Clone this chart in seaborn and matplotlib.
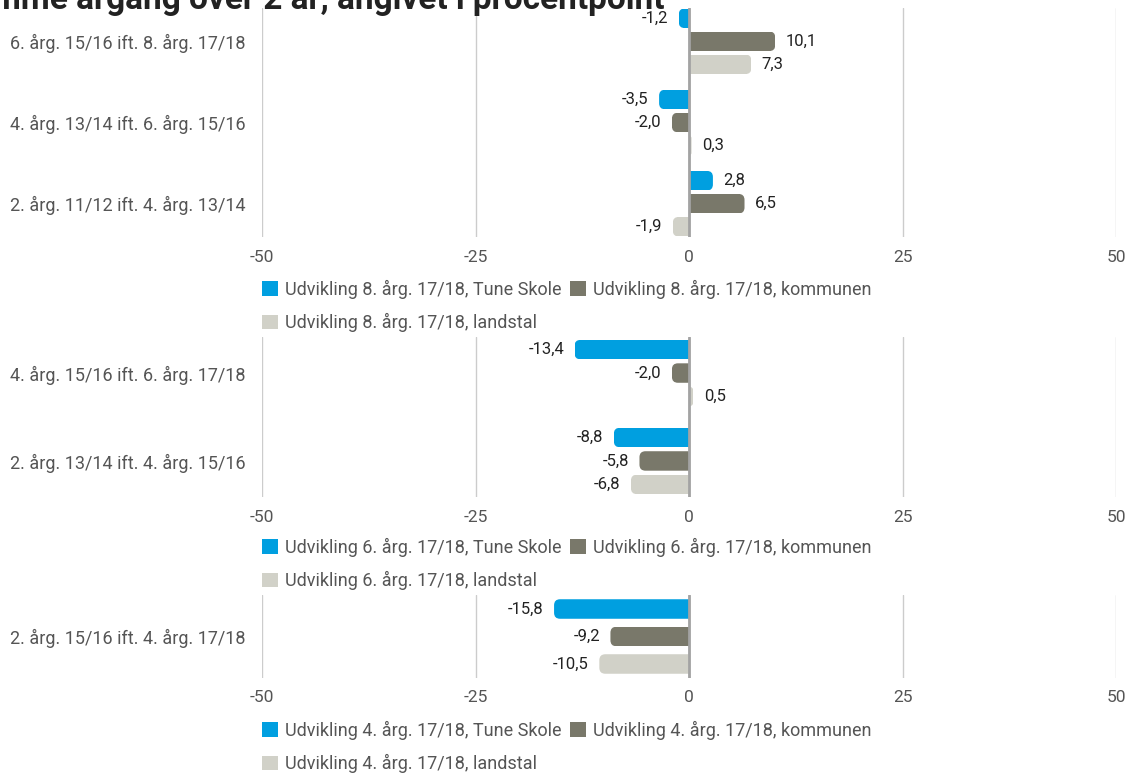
import numpy as np
import pandas as pd
import matplotlib
matplotlib.use("Agg")
import matplotlib.pyplot as plt
import seaborn as sns
from matplotlib.patches import FancyBboxPatch, Patch

sns.set_style("white")
plt.rcParams['font.family'] = ['Roboto', 'DejaVu Sans']
plt.rcParams['axes.unicode_minus'] = False

# --- data -------------------------------------------------------------
title = "Udvikling i samme årgang over 2 år, angivet i procentpoint"

series_colors = ["#009fe0", "#79786a", "#d1d1c8"]
ticks = [-50, -25, 0, 25, 50]

p1_grade = "8"
p1_categories = ["6. årg. 15/16 ift. 8. årg. 17/18",
                 "4. årg. 13/14 ift. 6. årg. 15/16",
                 "2. årg. 11/12 ift. 4. årg. 13/14"]
p1_skole = [-1.2, -3.5, 2.8]
p1_kommune = [10.1, -2.0, 6.5]
p1_land = [7.3, 0.3, -1.9]

p2_grade = "6"
p2_categories = ["4. årg. 15/16 ift. 6. årg. 17/18",
                 "2. årg. 13/14 ift. 4. årg. 15/16"]
p2_skole = [-13.4, -8.8]
p2_kommune = [-2.0, -5.8]
p2_land = [0.5, -6.8]

p3_grade = "4"
p3_categories = ["2. årg. 15/16 ift. 4. årg. 17/18"]
p3_skole = [-15.8]
p3_kommune = [-9.2]
p3_land = [-10.5]

series_suffix = ["Tune Skole", "kommunen", "landstal"]


def make_frame(grade, cats, skole, kommune, land):
    names = [f"Udvikling {grade}. årg. 17/18, {s}" for s in series_suffix]
    rows = []
    for name, vals in zip(names, [skole, kommune, land]):
        for c, v in zip(cats, vals):
            rows.append({"kategori": c, "serie": name, "værdi": v})
    return pd.DataFrame(rows), names


def comma(v):
    return f"{v:.1f}".replace(".", ",")


def round_bars(ax, radius_px=6):
    # rounded box clipped to the original bar -> only the outer end is round
    pxx = abs(ax.transData.transform((1, 0))[0] - ax.transData.transform((0, 0))[0])
    pxy = abs(ax.transData.transform((0, 1))[1] - ax.transData.transform((0, 0))[1])
    asp = pxx / pxy
    for rect in list(ax.patches):
        x0, w = rect.get_x(), rect.get_width()
        y0, h = rect.get_y(), rect.get_height()
        xl, wa = min(x0, x0 + w), abs(w)
        if wa == 0:
            continue
        neg = xl < 0
        r = min(radius_px / pxx, wa, abs(h) / asp / 2)
        bx = xl if neg else xl - r
        box = FancyBboxPatch((bx, min(y0, y0 + h)), wa + r, abs(h),
                             boxstyle=f"round,pad=0,rounding_size={r}",
                             mutation_aspect=asp, facecolor=rect.get_facecolor(),
                             edgecolor="none", linewidth=0, zorder=rect.get_zorder())
        ax.add_patch(box)
        box.set_clip_path(rect)
        rect.set_visible(False)


fig = plt.figure(figsize=(11.32, 7.76), dpi=100)
W, H = 1132, 776

# pixel layout of the three panels: (top, bottom, bar width, gap, legend top)
panels = [
    (p1_grade, p1_categories, p1_skole, p1_kommune, p1_land, 8, 237, 0.85, 0.15, 280),
    (p2_grade, p2_categories, p2_skole, p2_kommune, p2_land, 337, 497, 0.80, 0.17, 538),
    (p3_grade, p3_categories, p3_skole, p3_kommune, p3_land, 595, 678, 0.815, 0.29, 721),
]

left, right = 262, 1116
for grade, cats, sk, ko, la, top, bot, width, gap, leg_top in panels:
    ax = fig.add_axes([left / W, 1 - bot / H, (right - left) / W, (bot - top) / H])
    df, names = make_frame(grade, cats, sk, ko, la)
    sns.barplot(data=df, y="kategori", x="værdi", hue="serie", orient="h",
                palette=series_colors, saturation=1, width=width, gap=gap,
                linewidth=0, legend=False, ax=ax)
    n = len(cats)
    ax.set_ylim(n - 1 + 0.41, -0.41)
    ax.set_xlim(-50, 50)
    ax.set_xticks(ticks, labels=[str(t) for t in ticks])
    ax.set_xlabel("")
    ax.set_ylabel("")
    ax.tick_params(axis="x", length=0, pad=9, labelsize=12.5, labelcolor="#555555")
    ax.tick_params(axis="y", length=0, pad=12, labelsize=13, labelcolor="#555555")
    for s in ax.spines.values():
        s.set_visible(False)
    ax.grid(axis="x", color="#cccccc", linewidth=1)
    ax.set_axisbelow(True)
    ax.axvline(0, color="#a3a3a3", linewidth=2, zorder=5)

    for c in ax.containers:
        ax.bar_label(c, fmt=comma, padding=7.5, fontsize=12, color="#222222")

    round_bars(ax)

    handles = [Patch(facecolor=series_colors[i], edgecolor="none") for i in [0, 2, 1]]
    labels = [names[i] for i in [0, 2, 1]]
    fig.legend(handles, labels, loc="upper left",
               bbox_to_anchor=(left / W, 1 - leg_top / H), bbox_transform=fig.transFigure,
               ncol=2, frameon=False, fontsize=13, labelcolor="#555555",
               handlelength=0.88, handleheight=0.88, handletextpad=0.4,
               columnspacing=0.45, labelspacing=0.78, borderpad=0, borderaxespad=0)

fig.text(665 / W, 1 - 9 / H, title, ha="right", va="baseline",
         fontsize=24, fontweight="bold", color="#222222")

fig.savefig("out.png", dpi=100)
